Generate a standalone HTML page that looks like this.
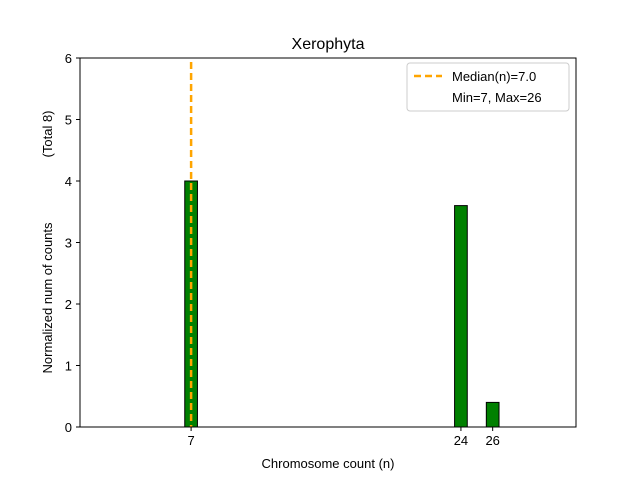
<!DOCTYPE html>
<html><head><meta charset="utf-8"><style>
body{margin:0;background:#fff;}
svg text{font-family:"Liberation Sans","DejaVu Sans",sans-serif;}
</style></head><body>
<svg id="chart" width="640" height="480" viewBox="0 0 640 480">
<rect x="0" y="0" width="640" height="480" fill="#fff"/>
<text x="328" y="49" font-size="16" text-anchor="middle">Xerophyta</text>
<g id="bars"></g>
<g id="median"></g>
<rect x="80" y="58" width="496" height="369" fill="none" stroke="#000" stroke-width="1"/>
<g id="xticks"></g>
<g id="yticks"></g>
<text x="328" y="468" font-size="13" text-anchor="middle">Chromosome count (n)</text>
<text transform="translate(52,242) rotate(-90)" font-size="13" text-anchor="middle" style="white-space:pre" xml:space="preserve">Normalized num of counts                  (Total 8)</text>
<g>
<rect x="407" y="63" width="162" height="48" rx="3" fill="#fff" stroke="#ccc"/>
<line x1="414" y1="76" x2="442" y2="76" stroke="#ffa500" stroke-width="2.5" stroke-dasharray="7,4"/>
<text x="452" y="81" font-size="13">Median(n)=7.0</text>
<text x="452" y="102" font-size="13">Min=7, Max=26</text>
</g>
</svg>
<script>
const categories=[7,24,26];
const values=[4.0,3.6,0.4];
const medianValue=7.0;
const xTickLabels=[7,24,26];
const yTickLabels=[0,1,2,3,4,5,6];
const ns="http://www.w3.org/2000/svg";
const X0=80,X1=576,Y0=427,Y1=58,xmin=0,xmax=31.25,ymin=0,ymax=6;
const sx=v=>X0+(v-xmin)/(xmax-xmin)*(X1-X0);
const sy=v=>Y0-(v-ymin)/(ymax-ymin)*(Y0-Y1);
function mk(t,a,p){const e=document.createElementNS(ns,t);for(const k in a)e.setAttribute(k,a[k]);p.appendChild(e);return e;}
const bars=document.getElementById('bars');
categories.forEach((c,i)=>{
 const w=0.8;
 const r=mk('rect',{x:sx(c-w/2),y:sy(values[i]),width:sx(c+w/2)-sx(c-w/2),height:sy(0)-sy(values[i]),fill:'#008000',stroke:'#000','stroke-width':1},bars);
 
 
});
const med=mk('line',{x1:sx(medianValue),x2:sx(medianValue),y1:Y1+4,y2:Y0,stroke:'#ffa500','stroke-width':2.5,'stroke-dasharray':'7,4'},document.getElementById('median'));


const xt=document.getElementById('xticks');
xTickLabels.forEach(v=>{
 const l=mk('line',{x1:sx(v),x2:sx(v),y1:Y0,y2:Y0+4,stroke:'#000'},xt);
 
 
 const t=mk('text',{x:sx(v),y:Y0+18,'font-size':13,'text-anchor':'middle'},xt);t.textContent=v;
 
 
});
const yt=document.getElementById('yticks');
yTickLabels.forEach(v=>{
 const l=mk('line',{x1:X0-4,x2:X0,y1:sy(v),y2:sy(v),stroke:'#000'},yt);
 
 
 const t=mk('text',{x:X0-8,y:sy(v)+5,'font-size':13,'text-anchor':'end'},yt);t.textContent=v;
 
 
});
</script>
</body></html>
